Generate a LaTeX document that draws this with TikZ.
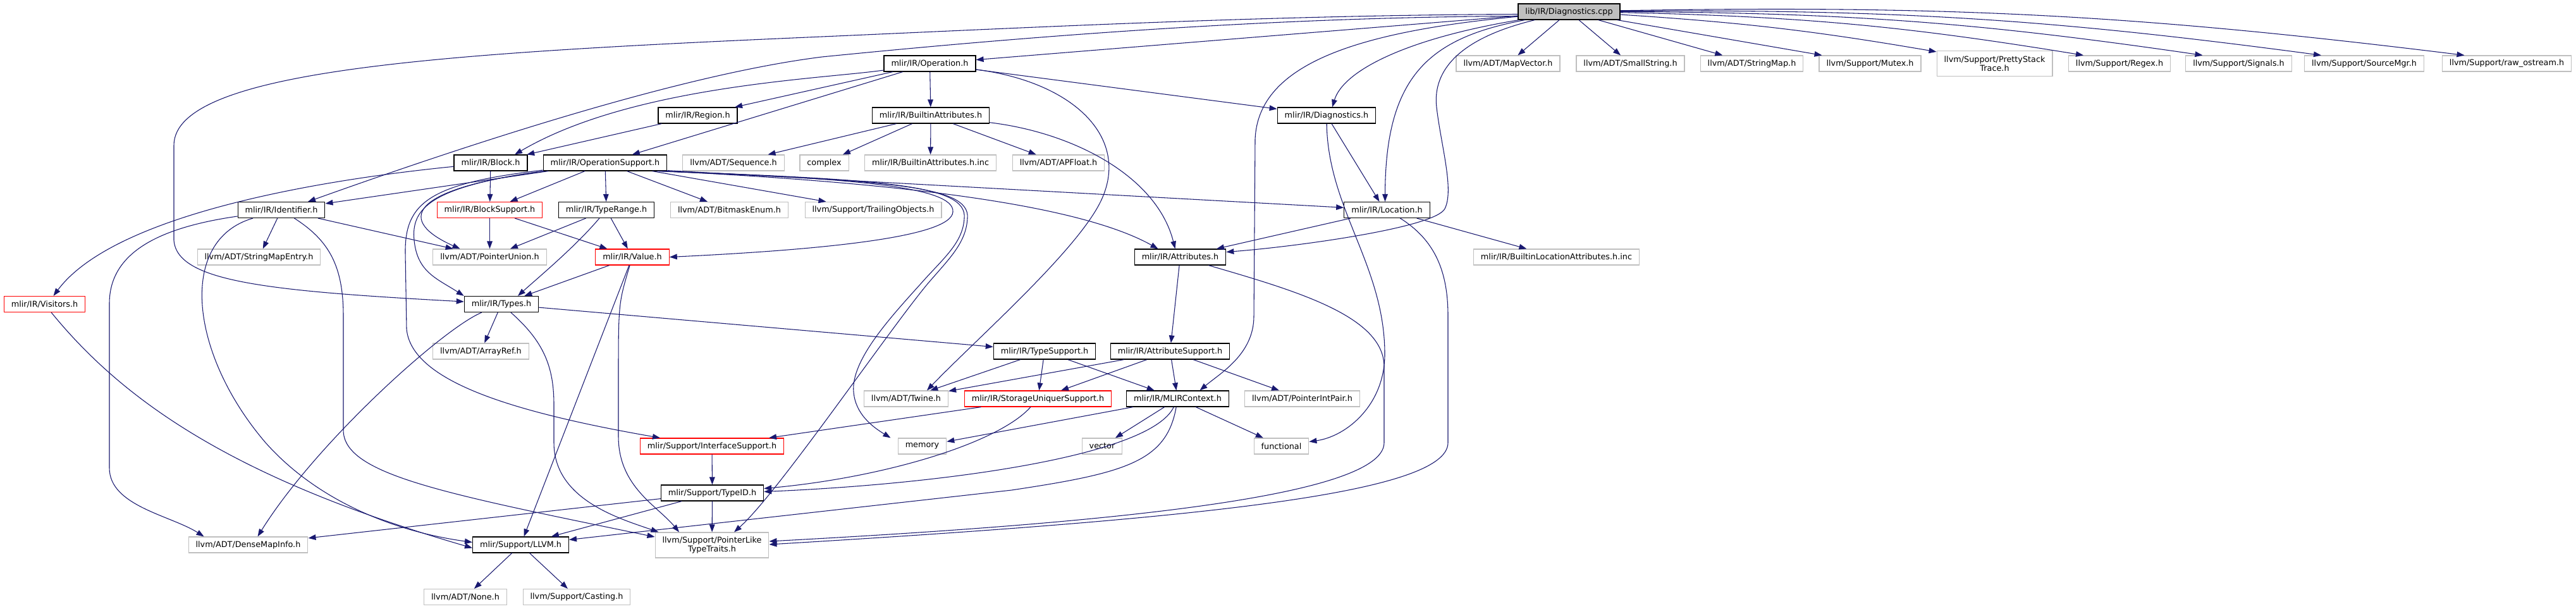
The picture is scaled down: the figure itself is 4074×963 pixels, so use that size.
\documentclass[tikz,border=0pt]{standalone}
\usepackage{fontspec}
\setmainfont{DejaVu Sans}
\usepackage{tikz}
\usetikzlibrary{arrows.meta,calc}
\definecolor{edgeblue}{RGB}{25,25,112}
\definecolor{sysgrey}{RGB}{191,191,191}
\definecolor{partred}{RGB}{255,0,0}
\tikzset{
  filebox/.style={rectangle,minimum height=18.75pt,inner xsep=8.6pt,inner ysep=3pt,
    font=\fontsize{9.6pt}{10.5pt}\selectfont,align=center,fill=white,line width=0.9pt},
  headerbox/.style={filebox,draw=black},
  systembox/.style={filebox,draw=sysgrey},
  partialbox/.style={filebox,draw=partred},
  rootbox/.style={filebox,draw=black,fill=sysgrey},
  twoline/.style={minimum height=30pt},
  incflow/.style={-{Triangle[length=9pt,width=6.5pt]},draw=edgeblue,line width=0.8pt}
}

\begin{document}
\begin{tikzpicture}[x=0.75pt,y=-0.75pt]
  \path[use as bounding box,fill=white] (0,0) rectangle (4074,963);

  \node[rootbox] (diagcpp) at (2481.5,18.5) {lib/IR/Diagnostics.cpp};

  \node[headerbox] (operation) at (1470.5,100.5) {mlir/IR/Operation.h};
  \node[systembox] (mapvector) at (2385,100.5) {llvm/ADT/MapVector.h};
  \node[systembox] (smallstring) at (2578.5,100.5) {llvm/ADT/SmallString.h};
  \node[systembox] (stringmap) at (2770.5,100.5) {llvm/ADT/StringMap.h};
  \node[systembox] (mutex) at (2957.5,100.5) {llvm/Support/Mutex.h};
  \node[systembox,twoline] (prettystack) at (3154.5,100.5) {llvm/Support/PrettyStack\\Trace.h};
  \node[systembox] (regex) at (3352,100.5) {llvm/Support/Regex.h};
  \node[systembox] (signals) at (3540.5,100.5) {llvm/Support/Signals.h};
  \node[systembox] (sourcemgr) at (3739,100.5) {llvm/Support/SourceMgr.h};
  \node[systembox] (rawostream) at (3964.5,100.5) {llvm/Support/raw\_ostream.h};

  \node[headerbox] (region) at (1103.5,182.5) {mlir/IR/Region.h};
  \node[headerbox] (builtinattr) at (1472,182.5) {mlir/IR/BuiltinAttributes.h};
  \node[headerbox] (diagh) at (2098,182.5) {mlir/IR/Diagnostics.h};

  \node[headerbox] (block) at (776,257.5) {mlir/IR/Block.h};
  \node[headerbox] (opsupport) at (957,257.5) {mlir/IR/OperationSupport.h};
  \node[systembox] (sequence) at (1160,257.5) {llvm/ADT/Sequence.h};
  \node[systembox] (complex) at (1303.5,257.5) {complex};
  \node[systembox] (builtininc) at (1471.5,257.5) {mlir/IR/BuiltinAttributes.h.inc};
  \node[systembox] (apfloat) at (1674,257.5) {llvm/ADT/APFloat.h};

  \node[headerbox] (identifier) at (445,332) {mlir/IR/Identifier.h};
  \node[partialbox] (blocksupport) at (774.5,332) {mlir/IR/BlockSupport.h};
  \node[headerbox] (typerange) at (959,332) {mlir/IR/TypeRange.h};
  \node[systembox] (bitmask) at (1153.5,332) {llvm/ADT/BitmaskEnum.h};
  \node[systembox] (trailing) at (1381,332) {llvm/Support/TrailingObjects.h};
  \node[headerbox] (location) at (2193.5,332) {mlir/IR/Location.h};

  \node[systembox] (stringmapentry) at (409.5,406.5) {llvm/ADT/StringMapEntry.h};
  \node[systembox] (pointerunion) at (774.5,406.5) {llvm/ADT/PointerUnion.h};
  \node[partialbox] (value) at (1000,406.5) {mlir/IR/Value.h};
  \node[headerbox] (attributes) at (1866.5,406.5) {mlir/IR/Attributes.h};
  \node[systembox] (builtinloc) at (2461.5,406.5) {mlir/IR/BuiltinLocationAttributes.h.inc};

  \node[partialbox] (visitors) at (70.5,481) {mlir/IR/Visitors.h};
  \node[headerbox] (types) at (793,481) {mlir/IR/Types.h};

  \node[systembox] (arrayref) at (760.5,555.5) {llvm/ADT/ArrayRef.h};
  \node[headerbox] (typesupport) at (1652,555.5) {mlir/IR/TypeSupport.h};
  \node[headerbox] (attrsupport) at (1850.5,555.5) {mlir/IR/AttributeSupport.h};

  \node[systembox] (twine) at (1433,630.5) {llvm/ADT/Twine.h};
  \node[partialbox] (storageuniquer) at (1641.5,630.5) {mlir/IR/StorageUniquerSupport.h};
  \node[headerbox] (mlircontext) at (1862.5,630.5) {mlir/IR/MLIRContext.h};
  \node[systembox] (pointerintpair) at (2059.5,630.5) {llvm/ADT/PointerIntPair.h};

  \node[partialbox] (interfacesupport) at (1126,705.5) {mlir/Support/InterfaceSupport.h};
  \node[systembox] (memory) at (1458.5,705.5) {memory};
  \node[systembox] (vector) at (1743,705.5) {vector};
  \node[systembox] (functional) at (2026.5,705.5) {functional};

  \node[headerbox] (typeid) at (1126.5,779.5) {mlir/Support/TypeID.h};

  \node[systembox] (densemap) at (392.5,861.5) {llvm/ADT/DenseMapInfo.h};
  \node[headerbox] (llvmh) at (823.5,861.5) {mlir/Support/LLVM.h};
  \node[systembox,twoline] (pointerlike) at (1126,862) {llvm/Support/PointerLike\\TypeTraits.h};

  \node[systembox] (adtnone) at (736,944) {llvm/ADT/None.h};
  \node[systembox] (casting) at (912,944) {llvm/Support/Casting.h};

  \draw[incflow] (diagcpp) -- (operation);
  \draw[incflow] (diagcpp) -- (mapvector);
  \draw[incflow] (diagcpp) -- (smallstring);
  \draw[incflow] (diagcpp) -- (stringmap);
  \draw[incflow] (diagcpp) -- (mutex);
  \draw[incflow] (diagcpp) to[bend left=3] ($(prettystack.north west)+(0,2)$);
  \draw[incflow] (diagcpp) to[bend left=4] ($(regex.north)+(-57,0)$);
  \draw[incflow] (diagcpp) to[bend left=4] ($(signals.north)+(-57,0)$);
  \draw[incflow] (diagcpp) to[bend left=4] ($(sourcemgr.north)+(-68,0)$);
  \draw[incflow] (diagcpp) to[bend left=4] ($(rawostream.north)+(-67,0)$);
  \draw[incflow] ($(diagcpp.west)+(0,7)$) .. controls (2000,27) and (1600,60) .. (1300,90)
    .. controls (1100,115) and (800,207) .. ($(identifier.north)+(42,0)$);
  \draw[incflow] ($(diagcpp.west)+(0,4)$) .. controls (2000,24) and (1600,45) .. (1300,58)
    .. controls (700,84) and (275,110) .. (275,230) -- (275,380)
    .. controls (280,445) and (420,460) .. ($(types.west)+(0,-4)$);
  \draw[incflow] (diagcpp) .. controls (2150,50) and (1990,100) .. (1985,220) -- (1983,500)
    .. controls (1983,560) and (1930,590) .. ($(mlircontext.north)+(35,0)$);
  \draw[incflow] (diagcpp) .. controls (2260,60) and (2191,120) .. ($(location.north)+(-3,0)$);
  \draw[incflow] (diagcpp) .. controls (2230,60) and (2125,110) .. ($(diagh.north)+(9,0)$);
  \draw[incflow] (diagcpp) .. controls (2310,60) and (2265,110) .. (2272,170)
    .. controls (2279,230) and (2300,300) .. (2285,330)
    .. controls (2270,360) and (2050,390) .. ($(attributes.east)+(0,-8)$);

  \draw[incflow] (operation) -- (region);
  \draw[incflow] (operation) .. controls (1300,125) and (1000,135) .. ($(block.north)+(38,0)$);
  \draw[incflow] (operation) -- (opsupport);
  \draw[incflow] (operation) -- (builtinattr);
  \draw[incflow] (operation) -- (diagh);
  \draw[incflow] (operation) .. controls (1700,130) and (1790,220) .. (1740,320)
    .. controls (1700,400) and (1540,540) .. ($(twine.north)+(33,0)$);

  \draw[incflow] (region) -- (block);

  \draw[incflow] (builtinattr) -- (sequence);
  \draw[incflow] (builtinattr) -- (complex);
  \draw[incflow] (builtinattr) -- (builtininc);
  \draw[incflow] (builtinattr) -- (apfloat);
  \draw[incflow] (builtinattr) .. controls (1700,210) and (1830,280) .. ($(attributes.north)+(-8,0)$);

  \draw[incflow] (diagh) -- ($(location.north)+(-12,0)$);
  \draw[incflow] (diagh) .. controls (2100,330) and (2190,420) .. (2190,560)
    .. controls (2190,640) and (2130,690) .. ($(functional.east)+(0,-7)$);

  \draw[incflow] (location) -- (attributes);
  \draw[incflow] (location) -- (builtinloc);
  \draw[incflow] (location) .. controls (2270,380) and (2290,430) .. (2290,500) -- (2290,700)
    .. controls (2290,780) and (1900,820) .. ($(pointerlike.east)+(0,-1)$);

  \draw[incflow] (attributes) -- (attrsupport);
  \draw[incflow] (attributes) .. controls (2050,460) and (2189,500) .. (2189,580) -- (2189,700)
    .. controls (2189,790) and (1700,830) .. ($(pointerlike.east)+(0,-6)$);

  \draw[incflow] (identifier) -- (stringmapentry);
  \draw[incflow] (identifier) -- (pointerunion);
  \draw[incflow] (identifier) .. controls (250,360) and (173,400) .. (173,480) -- (173,740)
    .. controls (173,800) and (270,815) .. ($(densemap.north west)+(25,0)$);
  \draw[incflow] (identifier) .. controls (280,380) and (300,560) .. (420,700)
    .. controls (500,790) and (620,840) .. ($(llvmh.west)+(0,-4)$);
  \draw[incflow] (identifier) .. controls (520,380) and (543,420) .. (543,500) -- (543,680)
    .. controls (543,750) and (700,780) .. ($(pointerlike.west)+(0,-13)$);

  \draw[incflow] (block) -- (blocksupport);
  \draw[incflow] (block) .. controls (500,285) and (180,340) .. ($(visitors.north)+(14,0)$);
  \draw[incflow] (visitors) .. controls (200,640) and (380,760) .. ($(llvmh.west)+(0,5)$);

  \draw[incflow] (blocksupport) -- (pointerunion);
  \draw[incflow] (blocksupport) -- (value);

  \draw[incflow] (typerange) -- (pointerunion);
  \draw[incflow] (typerange) .. controls (910,390) and (850,440) .. ($(types.north)+(26,0)$);
  \draw[incflow] (typerange) -- (value);

  \draw[incflow] (value) -- (types);
  \draw[incflow] (value) -- (llvmh);
  \draw[incflow] (value) .. controls (978,480) .. (978,600) -- (978,690)
    .. controls (978,770) and (1040,800) .. ($(pointerlike.north)+(-52,0)$);

  \draw[incflow] (types) -- (typesupport);
  \draw[incflow] (types) -- (arrayref);
  \draw[incflow] (types) .. controls (700,520) and (500,700) .. ($(densemap.north)+(15,0)$);
  \draw[incflow] (types) .. controls (860,540) and (876,580) .. (876,640) -- (876,700)
    .. controls (876,790) and (980,820) .. ($(pointerlike.north west)+(6,0)$);

  \draw[incflow] (opsupport) -- (blocksupport);
  \draw[incflow] (opsupport) -- (typerange);
  \draw[incflow] (opsupport) -- (bitmask);
  \draw[incflow] (opsupport) -- (trailing);
  \draw[incflow] (opsupport) -- (identifier);
  \draw[incflow] (opsupport) .. controls (640,300) and (630,350) .. ($(pointerunion.north)+(-47,0)$);
  \draw[incflow] (opsupport) .. controls (680,295) and (650,330) .. (655,380)
    .. controls (660,430) and (690,440) .. (types.north west);
  \draw[incflow] (opsupport) .. controls (680,290) and (640,320) .. (641,400) -- (643,520)
    .. controls (650,600) and (800,650) .. ($(interfacesupport.north)+(-82,0)$);
  \draw[incflow] ($(opsupport.south east)+(0,-1)$) -- (location);
  \draw[incflow] ($(opsupport.south east)+(-4,0)$) .. controls (1400,288) and (1700,320)
    .. ($(attributes.north)+(-35,0)$);
  \draw[incflow] ($(opsupport.south east)+(-8,0)$) .. controls (1350,282) and (1510,295) .. (1507,335)
    .. controls (1505,375) and (1300,395) .. (value.east);
  \draw[incflow] ($(opsupport.south east)+(-12,0)$) .. controls (1400,284) and (1530,292) .. (1525,345)
    .. controls (1523,385) and (1490,410) .. (1455,450)
    .. controls (1410,500) and (1345,570) .. (1350,620)
    .. controls (1353,655) and (1380,675) .. ($(memory.north)+(-50,0)$);
  \draw[incflow] ($(opsupport.south east)+(-16,0)$) .. controls (1400,286) and (1535,292) .. (1530,345)
    .. controls (1528,385) and (1500,410) .. (1466,450)
    .. controls (1400,530) and (1230,780) .. ($(pointerlike.north)+(35,0)$);

  \draw[incflow] (storageuniquer) -- (interfacesupport);
  \draw[incflow] (storageuniquer) .. controls (1580,700) and (1400,755) .. ($(typeid.east)+(0,-7)$);
  \draw[incflow] (interfacesupport) -- (typeid);

  \draw[incflow] (attrsupport) -- (twine);
  \draw[incflow] (attrsupport) -- (storageuniquer);
  \draw[incflow] (attrsupport) -- (mlircontext);
  \draw[incflow] (attrsupport) -- (pointerintpair);

  \draw[incflow] (typesupport) -- (twine);
  \draw[incflow] (typesupport) -- (storageuniquer);
  \draw[incflow] (typesupport) -- (mlircontext);

  \draw[incflow] (mlircontext) -- (memory);
  \draw[incflow] (mlircontext) -- (vector);
  \draw[incflow] (mlircontext) -- (functional);
  \draw[incflow] (mlircontext) .. controls (1820,720) and (1500,765) .. ($(typeid.east)+(0,-2)$);
  \draw[incflow] (mlircontext) .. controls (1845,730) and (1780,748) .. (1600,775)
    -- ($(llvmh.east)+(0,-8)$);

  \draw[incflow] (typeid) -- (densemap);
  \draw[incflow] (typeid) -- (llvmh);
  \draw[incflow] (typeid) -- (pointerlike);

  \draw[incflow] (llvmh) -- (adtnone);
  \draw[incflow] (llvmh) -- (casting);
\end{tikzpicture}
\end{document}
